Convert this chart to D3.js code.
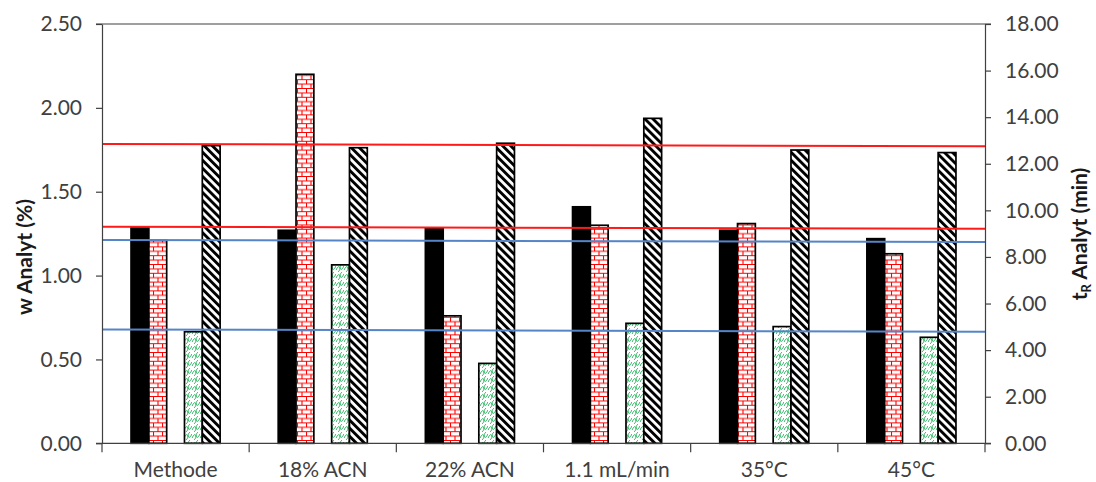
<!DOCTYPE html>
<html><head><meta charset="utf-8">
<script src="https://cdn.jsdelivr.net/npm/d3@7"></script>
<style>html,body{margin:0;padding:0;background:#fff}svg{display:block}</style>
</head><body>
<svg id="c" width="1096" height="482"></svg>
<script>
const categories = ["Methode","18% ACN","22% ACN","1.1 mL/min","35°C","45°C"];
const wBlack = [1.29,1.27,1.28,1.41,1.27,1.22];
const wRed   = [1.21,2.20,0.76,1.30,1.31,1.13];
const tGreen = [4.79,7.66,3.43,5.15,5.01,4.55];
const tHatch = [12.78,12.69,12.88,13.95,12.59,12.48];
const refRedHigh = [12.85,12.75];
const refRedLow  = [9.30,9.21];
const refBlueHigh= [8.73,8.64];
const refBlueLow = [4.89,4.79];
const leftTicks = [0,0.5,1.0,1.5,2.0,2.5];
const rightTicks = [0,2,4,6,8,10,12,14,16,18];

const L=102,R=985,T=24,B=443.3;
const svg=d3.select("#c");
const font="Lato, 'Open Sans', sans-serif";
const txt="#404040";

const defs=svg.append("defs");
// brick
const pb=defs.append("pattern").attr("id","brick").attr("patternUnits","userSpaceOnUse").attr("width",9).attr("height",8.8);
pb.append("rect").attr("width",9).attr("height",8.8).attr("fill","#fff");
pb.append("path").attr("d","M0,0.5H9M0,4.9H9M0.5,0.5V4.9M5,4.9V8.8").attr("stroke","#ff0000").attr("stroke-width",1.1).attr("fill","none");
// wave
const pw=defs.append("pattern").attr("id","wave").attr("patternUnits","userSpaceOnUse").attr("width",8).attr("height",8);
pw.append("rect").attr("width",8).attr("height",8).attr("fill","#fff");
pw.append("path").attr("d","M0,6 C2,2 3,2 4,4 C5,6 6,6 8,2 M4,4 C4,6 3,7 2,8 M6,0 C5,1 4,2 4,4").attr("stroke","#22b05a").attr("stroke-width",1).attr("fill","none");
// hatch
const ph=defs.append("pattern").attr("id","hatch").attr("patternUnits","userSpaceOnUse").attr("width",5.7).attr("height",10).attr("patternTransform","rotate(-45)");
ph.append("rect").attr("width",5.7).attr("height",10).attr("fill","#fff");
ph.append("rect").attr("width",2.9).attr("height",10).attr("fill","#000");

const x=d3.scaleBand().domain(categories).range([L,R]).padding(0);
const slot=d3.scaleBand().domain([0,1,2,3,4]).range([0,x.bandwidth()]).paddingInner(0).paddingOuter(1.63);
const yL=d3.scaleLinear().domain([0,2.5]).range([B,T]);
const yR=d3.scaleLinear().domain([0,18]).range([B,T]);
const xb=d3.scaleLinear().domain([0,1]).range([L,R]);

function bars(vals,scale,slotIdx,fill,stroke){
  svg.append("g").selectAll("rect").data(vals).join("rect")
    .attr("x",(d,i)=>x(categories[i])+slot(slotIdx))
    .attr("width",slot.bandwidth())
    .attr("y",d=>scale(d))
    .attr("height",d=>B-scale(d))
    .attr("fill",fill).attr("stroke",stroke).attr("stroke-width",1.7);
}
bars(wBlack,yL,0,"#000","#000");
bars(wRed,yL,1,"url(#brick)","#000");
bars(tGreen,yR,3,"url(#wave)","#000");
bars(tHatch,yR,4,"url(#hatch)","#000");

const line=d3.line().x((d,i)=>xb(i)).y(d=>yR(d));
[[refRedHigh,"#ff1a1a"],[refRedLow,"#ff1a1a"],[refBlueHigh,"#5585c8"],[refBlueLow,"#5585c8"]].forEach(([v,c])=>{
  svg.append("path").datum(v).attr("d",line).attr("fill","none").attr("stroke",c).attr("stroke-width",2);
});

// top border
svg.append("line").attr("x1",96).attr("x2",991).attr("y1",T).attr("y2",T).attr("stroke",txt).attr("stroke-width",1.2);

// y axes
const ga=svg.append("g").attr("transform",`translate(${L},0)`)
  .call(d3.axisLeft(yL).tickValues(leftTicks).tickFormat(d3.format(".2f")).tickSize(6).tickPadding(14).tickSizeOuter(0));
const gr=svg.append("g").attr("transform",`translate(${R},0)`)
  .call(d3.axisRight(yR).tickValues(rightTicks).tickFormat(d3.format(".2f")).tickSize(6).tickPadding(14).tickSizeOuter(0));
[ga,gr].forEach(g=>{
  g.selectAll("path,line").attr("stroke",txt).attr("stroke-width",1.2);
  g.selectAll("text").attr("font-family",font).attr("font-size",21).attr("fill",txt);
});

// x axis
const gx=svg.append("g").attr("transform",`translate(0,${B})`)
  .call(d3.axisBottom(x).tickSize(0).tickPadding(19));
gx.select(".domain").remove();
gx.selectAll("text").attr("font-family",font).attr("font-size",21).attr("fill",txt);
svg.append("line").attr("x1",96).attr("x2",991).attr("y1",B).attr("y2",B).attr("stroke",txt).attr("stroke-width",1.2);
const xt=d3.scaleLinear().domain([0,categories.length]).range([L,R]);
svg.append("g").selectAll("line").data(d3.range(categories.length+1)).join("line")
  .attr("x1",d=>xt(d)).attr("x2",d=>xt(d)).attr("y1",B).attr("y2",B+9).attr("stroke",txt).attr("stroke-width",1.2);

// titles
svg.append("text").attr("transform","translate(32,257) rotate(-90)").attr("text-anchor","middle")
  .attr("font-family",font).attr("font-size",21).attr("font-weight","bold").attr("fill","#1a1a1a").text("w Analyt (%)");
const rt=svg.append("text").attr("transform","translate(1087,234) rotate(-90)").attr("text-anchor","middle")
  .attr("font-family",font).attr("font-size",21).attr("font-weight","bold").attr("fill","#1a1a1a");
rt.append("tspan").text("t");
rt.append("tspan").attr("font-size",13).attr("dy",4).text("R");
rt.append("tspan").attr("dy",-4).text(" Analyt (min)");
</script>
</body></html>
